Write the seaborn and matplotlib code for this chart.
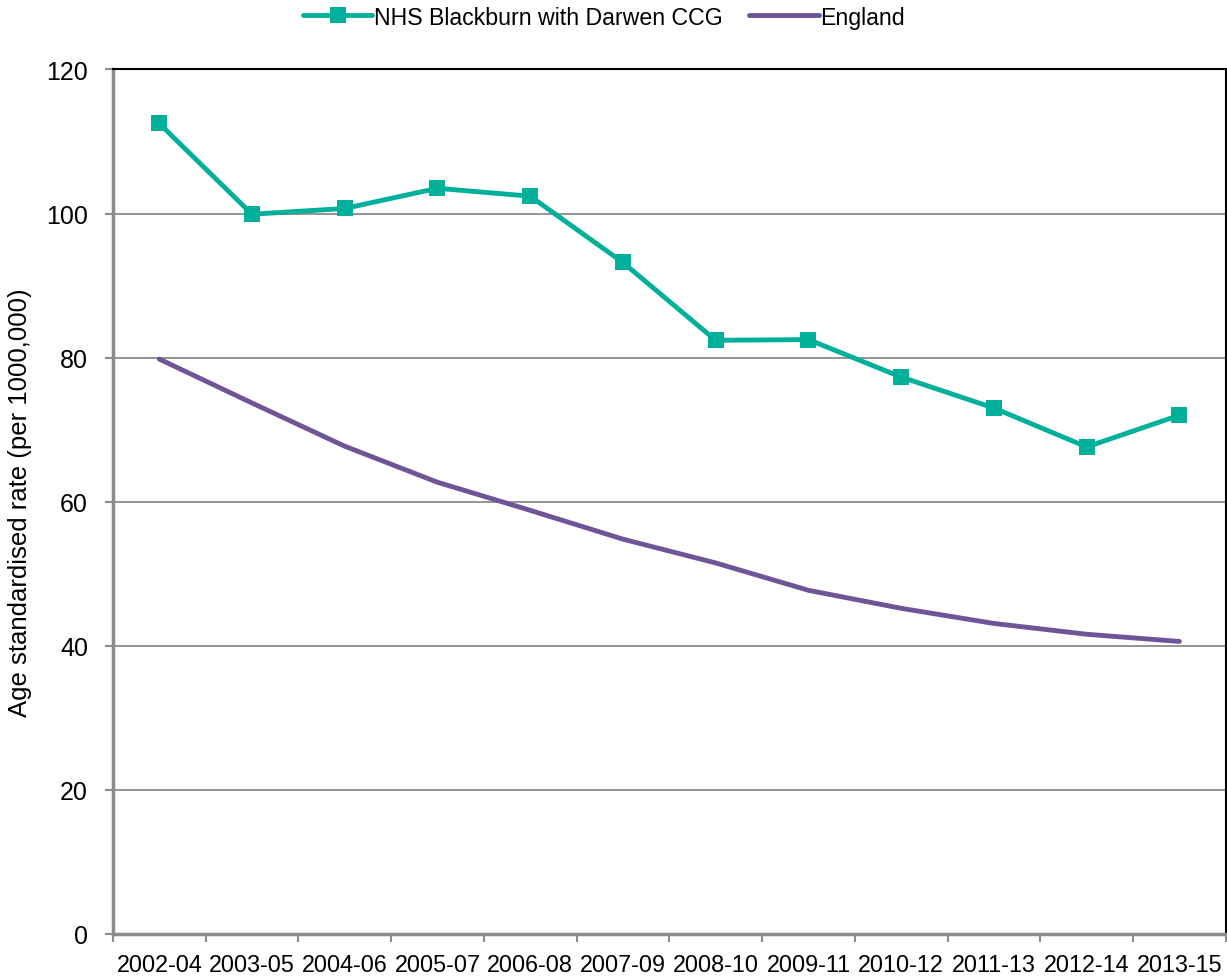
import pandas as pd
import seaborn as sns
import matplotlib.pyplot as plt

periods = ["2002-04", "2003-05", "2004-06", "2005-07", "2006-08", "2007-09",
           "2008-10", "2009-11", "2010-12", "2011-13", "2012-14", "2013-15"]
blackburn = [112.5, 99.9, 100.7, 103.5, 102.4, 93.2, 82.4, 82.5, 77.3, 73.0, 67.6, 72.0]
england = [79.8, 73.7, 67.7, 62.7, 58.8, 54.8, 51.5, 47.7, 45.2, 43.1, 41.6, 40.6]

df = pd.DataFrame({"pos": range(len(periods)), "period": periods,
                   "blackburn": blackburn, "england": england})

sns.set_style("white")
plt.rcParams["font.family"] = ["Liberation Sans", "DejaVu Sans"]
plt.rcParams["text.color"] = "black"
plt.rcParams["xtick.labelcolor"] = "black"
plt.rcParams["ytick.labelcolor"] = "black"
plt.rcParams["axes.labelcolor"] = "black"

fig = plt.figure(figsize=(12.27, 9.78), dpi=100)
ax = fig.add_axes([0.092, 0.044, 0.907, 0.884])

teal = "#00B09B"
purple = "#6F5597"

sns.lineplot(x="pos", y="blackburn", data=df, ax=ax, color=teal, lw=3.5,
             marker="s", markersize=12, markeredgewidth=0,
             label="NHS Blackburn with Darwen CCG")
sns.lineplot(x="pos", y="england", data=df, ax=ax, color=purple, lw=3.5,
             solid_capstyle="round", label="England")

ax.set_xlim(-0.5, len(periods) - 0.5)
ax.set_ylim(0, 120)
ax.set_yticks(range(0, 121, 20))
ax.yaxis.grid(True, color="#8c8c8c", lw=1.3)
ax.set_xticks(range(len(periods)))
ax.set_xticklabels(periods)
ax.set_xticks([i - 0.5 for i in range(len(periods) + 1)], minor=True)
ax.tick_params(axis="x", which="major", length=0, pad=14, labelsize=16.8)
ax.tick_params(axis="x", which="minor", length=6, width=1.5, color="#8c8c8c", direction="out", bottom=True)
ax.tick_params(axis="y", length=6, width=1.5, color="#8c8c8c", direction="out", left=True,
               labelsize=18, pad=12)
for s in ["left", "bottom"]:
    ax.spines[s].set_color("#8c8c8c")
    ax.spines[s].set_linewidth(2.5)
for s in ["top", "right"]:
    ax.spines[s].set_color("black")
    ax.spines[s].set_linewidth(1.5)
ax.set_xlabel("")
ax.set_ylabel("Age standardised rate (per 1000,000)", fontsize=18.5, labelpad=10)

ax.legend(loc="upper center", bbox_to_anchor=(0.441, 1.098), ncol=2, frameon=False,
          fontsize=16.7, handlelength=3, columnspacing=1.15, handletextpad=0.05)

plt.savefig("out.png", dpi=100)
